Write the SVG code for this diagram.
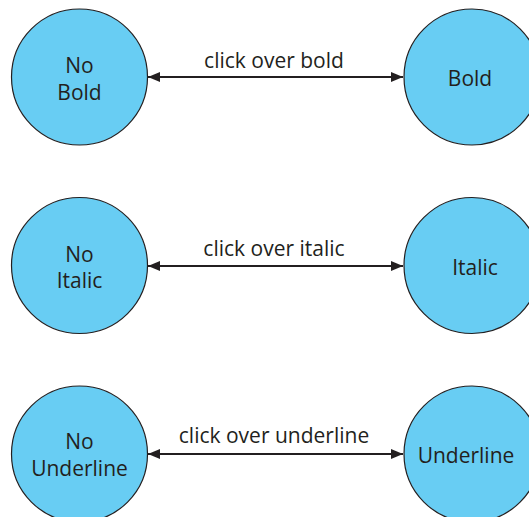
<svg xmlns="http://www.w3.org/2000/svg" width="529" height="517" viewBox="0 0 529 517">
<defs>
<style>
.node circle{fill:#68CDF3;stroke:#231f20;stroke-width:1.2}
text{font-family:"Open Sans","Liberation Sans",Arial,sans-serif;font-size:21px;fill:#231f20;text-anchor:middle}
.conn line{stroke:#231f20;stroke-width:2}
</style>
<marker id="ah" viewBox="0 0 12 10" refX="12" refY="5" markerWidth="12" markerHeight="10" markerUnits="userSpaceOnUse" orient="auto-start-reverse">
<path d="M0,0 L12,5 L0,10 Z" fill="#231f20"/>
</marker>
</defs>
<rect width="529" height="517" fill="#fff"/>
<g id="connectors" class="conn">
<line x1="148" y1="77" x2="403" y2="77" marker-start="url(#ah)" marker-end="url(#ah)"/>
<line x1="148" y1="266" x2="403" y2="266" marker-start="url(#ah)" marker-end="url(#ah)"/>
<line x1="148" y1="454" x2="403" y2="454" marker-start="url(#ah)" marker-end="url(#ah)"/>
<text x="274" y="68">click over bold</text>
<text x="274" y="256">click over italic</text>
<text x="274" y="443">click over underline</text>
</g>
<g id="no-bold" class="node"><circle cx="79.5" cy="77" r="68"/><text x="79.5" y="73">No</text><text x="79.5" y="100">Bold</text></g>
<g id="bold" class="node"><circle cx="472" cy="77" r="68"/><text x="470" y="86">Bold</text></g>
<g id="no-italic" class="node"><circle cx="79.5" cy="265.5" r="68"/><text x="79.5" y="262">No</text><text x="79.5" y="288">Italic</text></g>
<g id="italic" class="node"><circle cx="472" cy="265.5" r="68"/><text x="475" y="275">Italic</text></g>
<g id="no-underline" class="node"><circle cx="79.5" cy="454" r="68"/><text x="79.5" y="449">No</text><text x="79.5" y="476">Underline</text></g>
<g id="underline" class="node"><circle cx="472" cy="454" r="68"/><text x="466" y="463">Underline</text></g>
</svg>
